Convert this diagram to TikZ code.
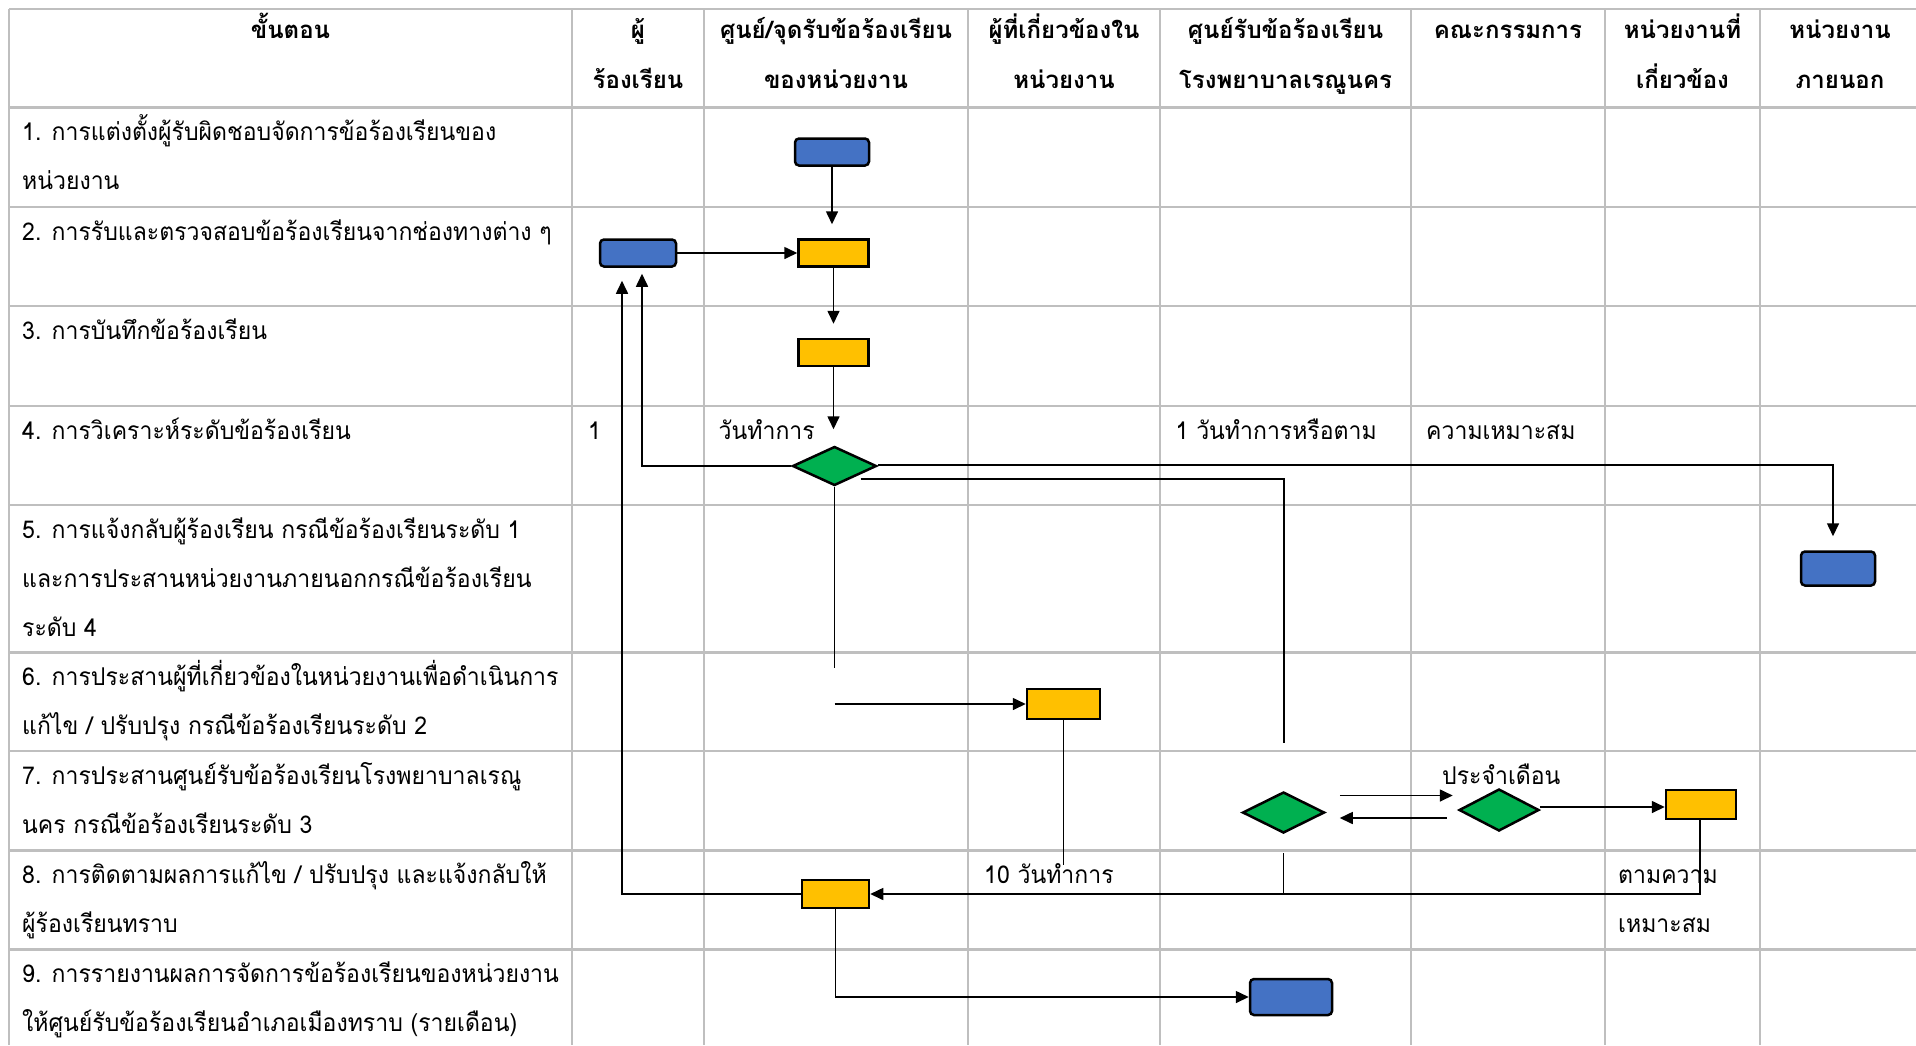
\documentclass[tikz,border=0pt]{standalone}
\usepackage{fontspec}
\setmainfont[Script=Thai]{Loma}
\newfontfamily\bodyfont[Script=Thai,FakeStretch=0.94]{Loma}
\usetikzlibrary{shapes.geometric,arrows.meta,calc}
\definecolor{gridgray}{HTML}{BFBFBF}
\definecolor{boxblue}{HTML}{4472C4}
\definecolor{boxyellow}{HTML}{FFC000}
\definecolor{boxgreen}{HTML}{00B050}
\begin{document}
\begin{tikzpicture}[x=1pt,y=-1pt,
  gridline/.style={draw=gridgray,line width=2.5pt},
  conn/.style={draw=black,line width=1.6pt},
  arr/.style={conn,-{Triangle[length=13pt,width=12pt]}},
  bluebox/.style={rectangle,draw=black,line width=2.5pt,fill=boxblue,rounded corners=4pt,minimum width=74pt,minimum height=27pt,inner sep=0pt},
  yellowbox/.style={rectangle,draw=black,line width=2.5pt,fill=boxyellow,minimum width=70pt,minimum height=27pt,inner sep=0pt},
  decision/.style={diamond,draw=black,line width=2.5pt,fill=boxgreen,minimum width=82pt,minimum height=40pt,inner sep=0pt},
  txt/.style={anchor=base west,inner sep=0pt,font=\bodyfont\fontsize{24.5}{24}\selectfont},
  hdr/.style={anchor=base,inner sep=0pt,font=\fontsize{24}{24}\selectfont\bfseries}]
\useasboundingbox (0,0) rectangle (1916,1045);
\fill[white] (0,0) rectangle (1916,1045);
% grid
\foreach \yy in {9,107.5,207,306,406,505,652.5,751,850.5,949.5}
  \draw[gridline] (9,\yy) -- (1916,\yy);
\foreach \xx in {9,572,704,968,1160,1411,1605,1760}
  \draw[gridline] (\xx,9) -- (\xx,1045);
% header
\node[hdr] (h1) at (290.5,38.5) {ขั้นตอน};
\node[hdr] (h2a) at (638,38.5) {ผู้};
\node[hdr] (h2b) at (638,88) {ร้องเรียน};
\node[hdr] (h3a) at (836,38.5) {ศูนย์/จุดรับข้อร้องเรียน};
\node[hdr] (h3b) at (836,88) {ของหน่วยงาน};
\node[hdr] (h4a) at (1064,38.5) {ผู้ที่เกี่ยวข้องใน};
\node[hdr] (h4b) at (1064,88) {หน่วยงาน};
\node[hdr] (h5a) at (1285.5,38.5) {ศูนย์รับข้อร้องเรียน};
\node[hdr] (h5b) at (1285.5,88) {โรงพยาบาลเรณูนคร};
\node[hdr] (h6) at (1508,38.5) {คณะกรรมการ};
\node[hdr] (h7a) at (1682.5,38.5) {หน่วยงานที่};
\node[hdr] (h7b) at (1682.5,88) {เกี่ยวข้อง};
\node[hdr] (h8a) at (1840,38.5) {หน่วยงาน};
\node[hdr] (h8b) at (1840,88) {ภายนอก};
% step texts
\node[txt] (r1a) at (22,140.5) {1. การแต่งตั้งผู้รับผิดชอบจัดการข้อร้องเรียนของ};
\node[txt] (r1b) at (22,189.5) {หน่วยงาน};
\node[txt] (r2) at (22,240) {2. การรับและตรวจสอบข้อร้องเรียนจากช่องทางต่าง ๆ};
\node[txt] (r3) at (22,339) {3. การบันทึกข้อร้องเรียน};
\node[txt] (r4) at (22,439) {4. การวิเคราะห์ระดับข้อร้องเรียน};
\node[txt] (r5a) at (22,538) {5. การแจ้งกลับผู้ร้องเรียน กรณีข้อร้องเรียนระดับ 1};
\node[txt] (r5b) at (22,587) {และการประสานหน่วยงานภายนอกกรณีข้อร้องเรียน};
\node[txt] (r5c) at (22,636) {ระดับ 4};
\node[txt] (r6a) at (22,685.5) {6. การประสานผู้ที่เกี่ยวข้องในหน่วยงานเพื่อดำเนินการ};
\node[txt] (r6b) at (22,734.5) {แก้ไข / ปรับปรุง กรณีข้อร้องเรียนระดับ 2};
\node[txt] (r7a) at (22,784) {7. การประสานศูนย์รับข้อร้องเรียนโรงพยาบาลเรณู};
\node[txt] (r7b) at (22,833) {นคร กรณีข้อร้องเรียนระดับ 3};
\node[txt] (r8a) at (22,883.5) {8. การติดตามผลการแก้ไข / ปรับปรุง และแจ้งกลับให้};
\node[txt] (r8b) at (22,932.5) {ผู้ร้องเรียนทราบ};
\node[txt] (r9a) at (22,982.5) {9. การรายงานผลการจัดการข้อร้องเรียนของหน่วยงาน};
\node[txt] (r9b) at (22,1031.5) {ให้ศูนย์รับข้อร้องเรียนอำเภอเมืองทราบ (รายเดือน)};
% other labels
\node[txt] (l1) at (588,439) {1};
\node[txt] (l2) at (718.5,439) {วันทำการ};
\node[txt] (l3) at (1175.5,439) {1 วันทำการหรือตาม};
\node[txt] (l4) at (1426,439) {ความเหมาะสม};
\node[txt] (l5) at (1442,784) {ประจำเดือน};
\node[txt] (l6) at (984,883.5) {10 วันทำการ};
\node[txt] (l7) at (1618,883.5) {ตามความ};
\node[txt] (l8) at (1618,932.5) {เหมาะสม};
% shapes
\node[bluebox] (b1) at (832,152) {};
\node[yellowbox] (y2) at (833.5,253) {};
\node[bluebox,minimum width=76pt] (b2) at (638,253) {};
\node[yellowbox] (y3) at (833.5,352.5) {};
\node[decision,minimum width=84pt,minimum height=39pt] (d4) at (834.5,466) {};
\node[bluebox,minimum height=34pt] (b5) at (1838,568.5) {};
\node[yellowbox,minimum width=73pt,minimum height=30pt] (y6) at (1063.5,704) {};
\node[decision,minimum height=41pt] (d7a) at (1283.5,812.5) {};
\node[decision,minimum width=80pt,minimum height=42pt] (d7b) at (1499,810) {};
\node[yellowbox,minimum height=29pt] (y7) at (1701,804.5) {};
\node[yellowbox,minimum width=67pt,minimum height=28pt] (y8) at (835.5,894) {};
\node[bluebox,minimum width=82pt,minimum height=36pt] (b9) at (1291,997) {};
% free ends
\coordinate (e8) at (1284,743);
\coordinate (e10) at (1063.5,865);
% connectors
\draw[arr,shorten >=14pt] (b1.south) -- (b1.south |- y2.north);
\draw[arr] (b2.east) -- (y2.west);
\draw[arr,shorten >=14pt] (y2.south) -- (y3.north);
\draw[arr,shorten >=16pt] (y3.south) -- (y3.south |- d4.north);
\draw[arr,shorten >=6pt] (d4.west) -| ([xshift=4pt]b2.south);
\draw[arr,shorten >=13pt] (y8.west) -| ([xshift=-16pt]b2.south);
\draw[arr,shorten >=14pt] ([yshift=1pt]d4.east) -| ([xshift=-5pt]b5.north);
\draw[conn] ($(d4.center)+(26,13)$) -| (e8);
\draw[conn] (d4.south) -- ($(d4.south |- y6.west)+(0,-36)$);
\draw[arr] (d4.south |- y6.west) -- (y6.west);
\draw[conn] (y6.south) -- (e10);
\draw[arr,shorten <=14pt,shorten >=5pt] ($(d7a.east)+(0,-17)$) -- ($(d7a.east -| d7b.west)+(0,-17)$);
\draw[arr,shorten <=11pt,shorten >=14pt] ($(d7b.west)+(0,8)$) -- ($(d7b.west -| d7a.east)+(0,8)$);
\draw[arr] ([yshift=3pt]d7b.east) -- ([yshift=3pt]d7b.east -| y7.west);
\draw[arr] ([xshift=-1pt]y7.south) |- (y8.east);
\draw[conn,shorten <=19pt] (d7a.south) -- (d7a.south |- y8.east);
\draw[arr] (y8.south) |- (b9.west);
\end{tikzpicture}
\end{document}
